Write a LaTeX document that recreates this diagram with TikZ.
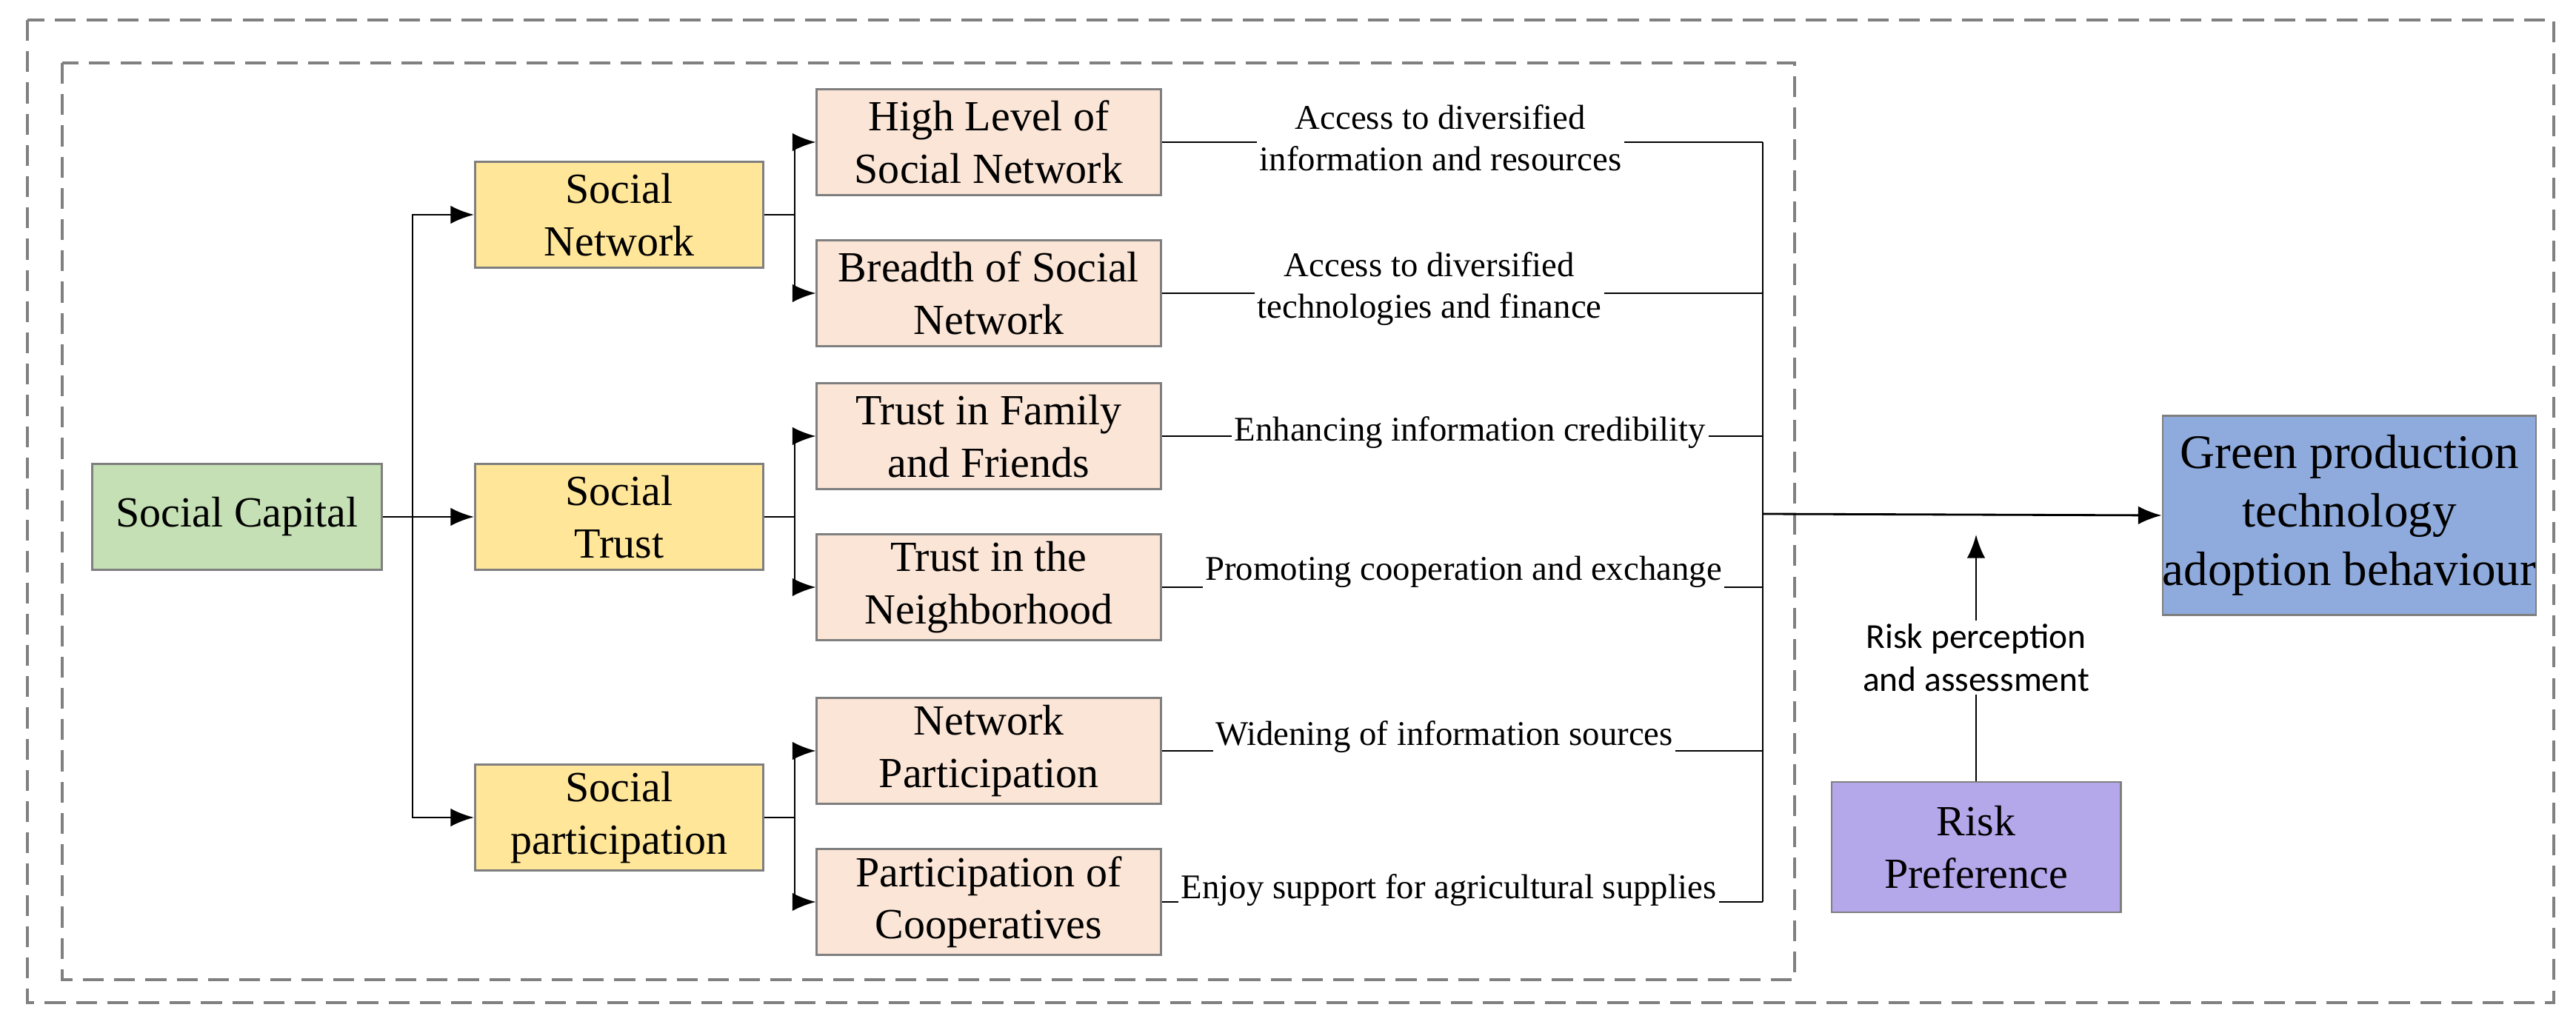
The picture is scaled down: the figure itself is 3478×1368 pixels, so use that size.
\documentclass[tikz,border=0pt]{standalone}
\usepackage{fontspec}
\setmainfont{Liberation Serif}
\newfontfamily\lblsans{Carlito}
\usetikzlibrary{arrows.meta}
\definecolor{cgreen}{HTML}{C5E0B4}
\definecolor{cyellow}{HTML}{FFE699}
\definecolor{cpink}{HTML}{FBE5D6}
\definecolor{cblue}{HTML}{8FAADC}
\definecolor{cpurple}{HTML}{B4A7EA}
\definecolor{cedge}{HTML}{7F7F7F}
\begin{document}
\begin{tikzpicture}[x=0.01cm,y=-0.01cm,
  box/.style={draw=cedge,line width=0.8pt,minimum width=#1,inner sep=0pt,align=center,font=\fontsize{16.5}{20}\selectfont},
  ybox/.style={box=389\pgflinewidth,fill=cyellow,minimum width=3.89cm,minimum height=1.43cm},
  pbox/.style={box=464,fill=cpink,minimum width=4.64cm,minimum height=1.43cm},
  lbl/.style={fill=white,inner sep=1pt,align=center,font=\fontsize{13.3}{16}\selectfont},
  conn/.style={line width=0.8pt},
  arr/.style={conn,-{Latex[length=9pt,width=7pt]}},
  frame/.style={draw=gray,dashed,line width=0.9pt,dash pattern=on 8pt off 4pt}]
\useasboundingbox (0,0) rectangle (3478,1368);
\draw[frame] (37,27) rectangle (3448,1354);
\draw[frame] (84,85) rectangle (2423,1323);
\node[box=0,fill=cgreen,minimum width=3.91cm,minimum height=1.43cm] (sc) at (320,698) {Social Capital};
\node[ybox] (sn) at (836,290) {Social\\Network};
\node[ybox] (st) at (836,698) {Social\\Trust};
\node[ybox] (sp) at (836,1104) {Social\\participation};
\node[pbox] (p1) at (1335,192) {High Level of\\Social Network};
\node[pbox] (p2) at (1335,396) {Breadth of Social\\Network};
\node[pbox] (p3) at (1335,589) {Trust in Family\\and Friends};
\node[pbox] (p4) at (1335,793) {Trust in the\\Neighborhood};
\node[pbox] (p5) at (1335,1014) {Network\\Participation};
\node[pbox] (p6) at (1335,1218) {Participation of\\Cooperatives};
\node[box=0,fill=cblue,minimum width=4.93cm,minimum height=2.69cm,font=\fontsize{18.5}{22.5}\selectfont] (gp) at (3172,696) {Green production\\technology\\adoption behaviour};
\node[box=0,fill=cpurple,minimum width=3.9cm,minimum height=1.76cm] (rp) at (2668,1144) {Risk\\Preference};
% trunks
\coordinate (t1) at (557,698);
\draw[conn] (sc.east) -- (t1);
\draw[arr] (t1) |- (sn.west);
\draw[arr] (t1) |- (sp.west);
\draw[arr] (t1) -- (st.west);
\foreach \y/\a/\b in {sn/p1/p2, st/p3/p4, sp/p5/p6}{
  \draw[conn] (\y.east) -- ++(41,0) coordinate (b\y);
  \draw[arr] (b\y) |- (\a.west);
  \draw[arr] (b\y) |- (\b.west);
}
% right trunk
\coordinate (rt) at (2380,694);
\foreach \p in {p1,p2,p3,p4,p5,p6}{\draw[conn] (\p.east) -- (\p.east -| rt);}
\draw[conn] (p1.east -| rt) -- (p6.east -| rt);
\node[lbl] at (1945,186) {Access to diversified\\information and resources};
\node[lbl] at (1930,390) {Access to diversified\\technologies and finance};
\node[lbl] at (1985,584) {Enhancing information credibility};
\node[lbl] at (1976,772) {Promoting cooperation and exchange};
\node[lbl] at (1950,995) {Widening of information sources};
\node[lbl] at (1956,1202) {Enjoy support for agricultural supplies};
\draw[arr] (rt) -- (gp.west);
\node[align=center,inner sep=1pt,font=\lblsans\fontsize{13.5}{16.5}\selectfont] (rl) at (2668,888) {Risk perception\\and assessment};
\draw[conn] (rp.north) -- (rl.south);
\draw[arr] (rl.north) -- (2668,722);
\end{tikzpicture}
\end{document}
